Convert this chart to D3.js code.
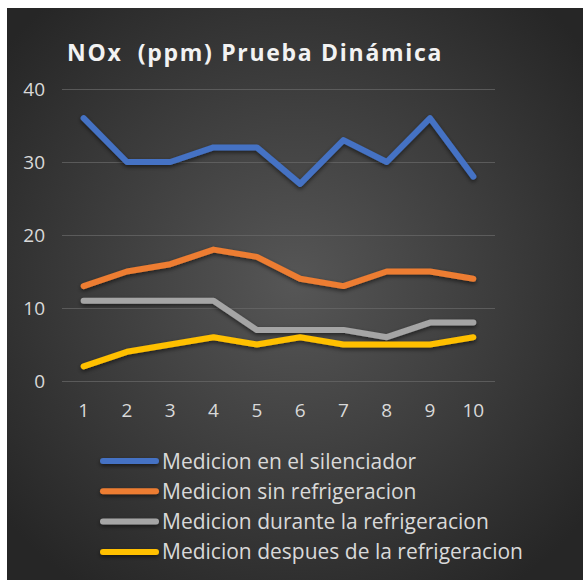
<!DOCTYPE html>
<html>
<head>
<meta charset="utf-8">
<script src="https://cdn.jsdelivr.net/npm/d3@7"></script>
<style>
    body { margin: 0; background: #ffffff; }
    svg text { font-family: "Open Sans", "Liberation Sans", sans-serif; }
</style>
</head>
<body>
<div id="chart"></div>
<script>
    "use strict";

    // chart data
    const categories = [1, 2, 3, 4, 5, 6, 7, 8, 9, 10];
    const seriesNames = [
        "Medicion en el silenciador",
        "Medicion sin refrigeracion",
        "Medicion durante la refrigeracion",
        "Medicion despues de la refrigeracion"
    ];
    const silenciador = [36, 30, 30, 32, 32, 27, 33, 30, 36, 28];
    const sinRefrigeracion = [13, 15, 16, 18, 17, 14, 13, 15, 15, 14];
    const duranteRefrigeracion = [11, 11, 11, 11, 7, 7, 7, 6, 8, 8];
    const despuesRefrigeracion = [2, 4, 5, 6, 5, 6, 5, 5, 5, 6];
    const yTicks = [0, 10, 20, 30, 40];
    const colors = ["#4472c4", "#ed7d31", "#a5a5a5", "#ffc000"];

    const seriesValues = [silenciador, sinRefrigeracion, duranteRefrigeracion, despuesRefrigeracion];

    const width = 583;
    const height = 580;
    const margin = { top: 89, right: 88, bottom: 199, left: 62 };

    const svg = d3.select("#chart").append("svg")
        .attr("width", width)
        .attr("height", height);

    const defs = svg.append("defs");

    // radial background like the office dark style
    let grad = defs.append("radialGradient")
        .attr("id", "bg")
        .attr("cx", "50%").attr("cy", "48%").attr("r", "65%");
    grad.append("stop").attr("offset", "0%").attr("stop-color", "#565656");
    grad.append("stop").attr("offset", "100%").attr("stop-color", "#262626");

    // user space region so flat horizontal lines still get the shadow
    let shadow = defs.append("filter")
        .attr("id", "shadow")
        .attr("filterUnits", "userSpaceOnUse")
        .attr("x", -100).attr("y", -100)
        .attr("width", 800).attr("height", 800);
    shadow.append("feDropShadow")
        .attr("dx", 0).attr("dy", 2)
        .attr("stdDeviation", 2)
        .attr("flood-color", "#000")
        .attr("flood-opacity", 0.55);

    svg.append("rect")
        .attr("x", 7).attr("y", 8)
        .attr("width", width - 7).attr("height", height - 8)
        .attr("fill", "url(#bg)");

    // title
    svg.append("text")
        .attr("x", 67).attr("y", 61)
        .attr("fill", "#f2f2f2")
        .style("font-size", "23px")
        .style("font-weight", "bold")
        .style("letter-spacing", "1.7px")
        .style("white-space", "pre")
        .attr("xml:space", "preserve")
        .text("NOx  (ppm) Prueba Dinámica");

    const g = svg.append("g")
        .attr("transform", "translate(" + margin.left + "," + margin.top + ")");

    const plotW = width - margin.left - margin.right;
    const plotH = height - margin.top - margin.bottom;

    const xScale = d3.scaleBand()
        .domain(categories)
        .range([0, plotW]);

    const yScale = d3.scaleLinear()
        .domain([0, 40])
        .range([plotH, 0]);

    // gridlines and y labels
    const yAxis = d3.axisLeft(yScale)
        .tickValues(yTicks)
        .tickSizeInner(-plotW)
        .tickSizeOuter(0)
        .tickPadding(17);

    const yG = g.append("g").call(yAxis);
    yG.select(".domain").remove();
    yG.selectAll(".tick line")
        .attr("stroke", "#6a6a6a")
        .attr("stroke-opacity", 0.7);
    yG.selectAll(".tick text")
        .attr("fill", "#d9d9d9")
        .style("font-size", "19px");

    // x labels
    const xAxis = d3.axisBottom(xScale)
        .tickSize(0)
        .tickPadding(23);

    const xG = g.append("g")
        .attr("transform", "translate(0," + plotH + ")")
        .call(xAxis);
    xG.select(".domain").remove();
    xG.selectAll(".tick text")
        .attr("fill", "#d9d9d9")
        .style("font-size", "19px");

    // lines
    const line = d3.line()
        .x((d, i) => xScale(categories[i]) + xScale.bandwidth() / 2)
        .y(d => yScale(d));

    seriesValues.forEach((values, i) => {
        g.append("path")
            .datum(values)
            .attr("d", line)
            .attr("fill", "none")
            .attr("stroke", colors[i])
            .attr("stroke-width", 6)
            .attr("stroke-linejoin", "round")
            .attr("stroke-linecap", "round")
            .attr("filter", "url(#shadow)");
    });

    // legend
    const legend = svg.append("g")
        .attr("transform", "translate(100,461)");

    seriesNames.forEach((name, i) => {
        let row = legend.append("g")
            .attr("transform", "translate(0," + (i * 30.3) + ")");
        row.append("line")
            .attr("x1", 3).attr("x2", 56)
            .attr("y1", 0).attr("y2", 0)
            .attr("stroke", colors[i])
            .attr("stroke-width", 6)
            .attr("stroke-linecap", "round")
            .attr("filter", "url(#shadow)");
        row.append("text")
            .attr("x", 62).attr("y", 7.5)
            .attr("fill", "#d9d9d9")
            .style("font-size", "21px")
            .text(name);
    });
</script>
</body>
</html>
